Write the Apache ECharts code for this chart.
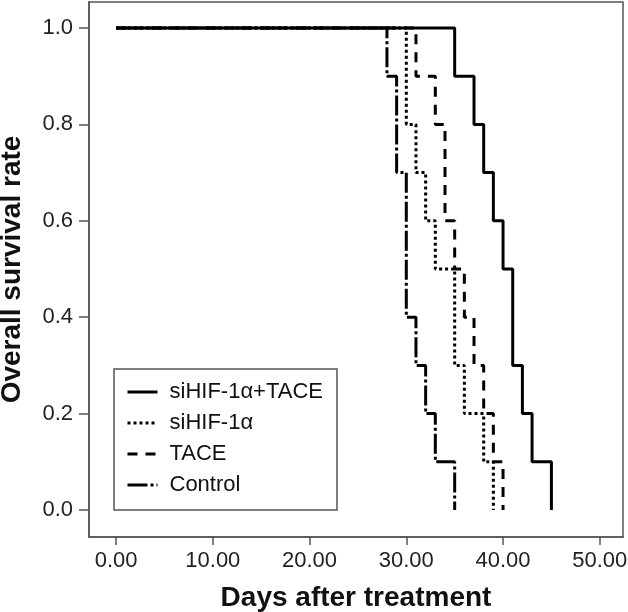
<!DOCTYPE html>
<html>
<head>
<meta charset="utf-8">
<script src="https://cdn.jsdelivr.net/npm/echarts@6/dist/echarts.min.js"></script>
<style>
html,body{margin:0;padding:0;background:#fff;}
#chart{width:628px;height:612px;}
</style>
</head>
<body>
<div id="chart"></div>
<script>
// ---- data ----
const seriesNames = ['siHIF-1\u03b1+TACE', 'siHIF-1\u03b1', 'TACE', 'Control'];
const daysCombo = [0, 35, 37, 38, 39, 40, 41, 42, 43, 45];
const survCombo = [1.0, 0.9, 0.8, 0.7, 0.6, 0.5, 0.3, 0.2, 0.1, 0.0];
const daysSiHIF = [0, 30, 31, 32, 33, 35, 36, 38, 39];
const survSiHIF = [1.0, 0.8, 0.7, 0.6, 0.5, 0.3, 0.2, 0.1, 0.0];
const daysTACE = [0, 31, 33, 34, 35, 36, 37, 38, 39, 40];
const survTACE = [1.0, 0.9, 0.8, 0.6, 0.5, 0.4, 0.3, 0.2, 0.1, 0.0];
const daysControl = [0, 28, 29, 30, 31, 32, 33, 35];
const survControl = [1.0, 0.9, 0.7, 0.4, 0.3, 0.2, 0.1, 0.0];
const xTicks = [0, 10, 20, 30, 40, 50];
const yTicks = [0, 0.2, 0.4, 0.6, 0.8, 1.0];

function pairs(xs, ys) { return xs.map((x, i) => [x, ys[i]]); }

const FONT = '"Liberation Sans", Arial, Helvetica, sans-serif';
const AXIS_COLOR = '#555';

const styles = [
  { type: 'solid', width: 3 },
  { type: [3, 3], width: 3 },
  { type: [10, 8], width: 3 },
  { type: [20, 3, 3, 3], width: 3 }
];
const dataSets = [
  pairs(daysCombo, survCombo),
  pairs(daysSiHIF, survSiHIF),
  pairs(daysTACE, survTACE),
  pairs(daysControl, survControl)
];

const chart = echarts.init(document.getElementById('chart'), null, { renderer: 'canvas' });
chart.setOption({
  animation: false,
  backgroundColor: '#fff',
  grid: {
    left: 89, right: 5, top: 2, bottom: 75,
    containLabel: false, outerBoundsMode: 'none',
    show: true, borderColor: AXIS_COLOR, borderWidth: 1.5, backgroundColor: 'transparent'
  },
  xAxis: {
    type: 'value', min: -2.8, max: 52.4,
    name: 'Days after treatment', nameLocation: 'middle', nameGap: 47,
    nameTextStyle: { fontFamily: FONT, fontSize: 28, fontWeight: 'bold', color: '#111' },
    axisLine: { show: true, onZero: false, lineStyle: { color: AXIS_COLOR, width: 1.5 } },
    axisTick: { show: true, length: 8, customValues: xTicks, lineStyle: { color: AXIS_COLOR, width: 1.5 } },
    axisLabel: { customValues: xTicks, margin: 13, fontFamily: FONT, fontSize: 22, color: '#222',
      formatter: v => v.toFixed(2) },
    splitLine: { show: false }
  },
  yAxis: {
    type: 'value', min: -0.056, max: 1.054,
    name: 'Overall survival rate', nameLocation: 'middle', nameGap: 63,
    nameTextStyle: { fontFamily: FONT, fontSize: 28, fontWeight: 'bold', color: '#111' },
    axisLine: { show: true, onZero: false, lineStyle: { color: AXIS_COLOR, width: 1.5 } },
    axisTick: { show: true, length: 10, customValues: yTicks, lineStyle: { color: AXIS_COLOR, width: 1.5 } },
    axisLabel: { customValues: yTicks, margin: 16, fontFamily: FONT, fontSize: 22, color: '#222',
      formatter: v => v.toFixed(1) },
    splitLine: { show: false }
  },
  legend: {
    orient: 'vertical', left: 114, top: 369,
    padding: [11, 14, 13, 12],
    itemGap: 7, itemWidth: 30, itemHeight: 14,
    borderColor: AXIS_COLOR, borderWidth: 1.5, backgroundColor: '#fff',
    itemStyle: { opacity: 0 },
    lineStyle: { width: 3 },
    textStyle: { fontFamily: FONT, fontSize: 22, color: '#111', lineHeight: 24, padding: [0, 0, 0, 7] },
    data: seriesNames
  },
  series: seriesNames.map((name, i) => ({
    name: name,
    type: 'line',
    step: 'end',
    symbol: 'none',
    data: dataSets[i],
    lineStyle: { color: '#000', width: styles[i].width, type: styles[i].type, cap: 'butt' },
    itemStyle: { color: '#000' },
    z: 10 - i
  }))
});
</script>
</body>
</html>
